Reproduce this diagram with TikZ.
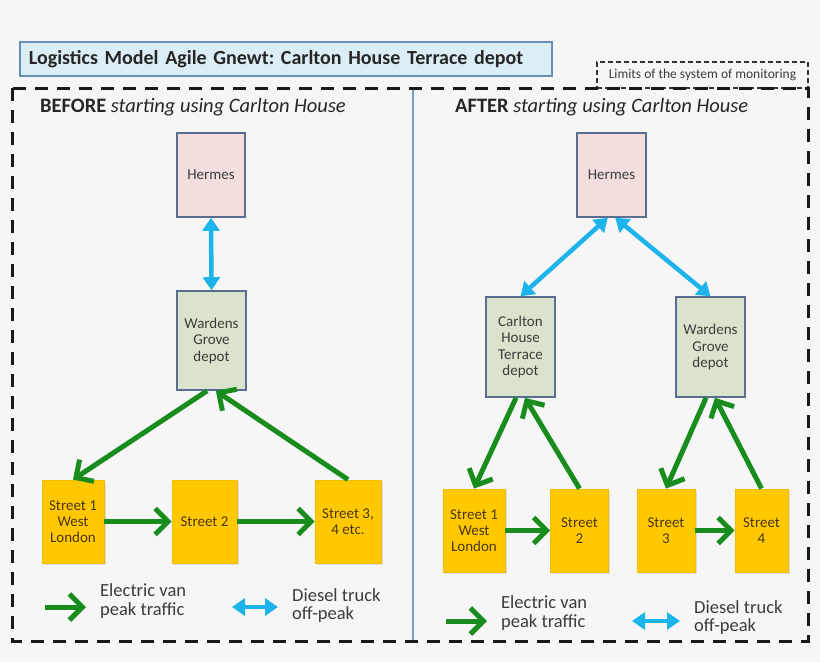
\documentclass[tikz,border=0pt]{standalone}
\usepackage{fontspec}
\setmainfont{Carlito}
\usetikzlibrary{arrows.meta,shadows}
\definecolor{bgcol}{RGB}{246,246,246}
\definecolor{titlefill}{RGB}{219,238,245}
\definecolor{titleline}{RGB}{105,140,185}
\definecolor{boxline}{RGB}{90,110,145}
\definecolor{boxtext}{RGB}{60,60,60}
\definecolor{hermesfill}{RGB}{242,222,221}
\definecolor{depotfill}{RGB}{218,228,204}
\definecolor{streetfill}{RGB}{255,200,0}
\definecolor{streetline}{RGB}{240,188,0}
\definecolor{streettext}{RGB}{75,55,10}
\definecolor{vangreen}{RGB}{25,140,30}
\definecolor{truckblue}{RGB}{28,180,234}
\definecolor{divider}{RGB}{125,155,200}
\frenchspacing
\begin{document}
\begin{tikzpicture}[x=1pt,y=-1pt]
\tikzstyle{every node}+=[inner sep=0pt]
\tikzstyle{box}=[draw=boxline, line width=1.6pt, align=center, text=boxtext, font=\fontsize{15}{16.5}\selectfont]
\tikzstyle{hermesbox}=[box, fill=hermesfill, minimum width=68pt, minimum height=84pt]
\tikzstyle{depotbox}=[box, fill=depotfill, minimum width=69pt, minimum height=100pt]
\tikzstyle{streetbox}=[draw=streetline, line width=0.8pt, fill=streetfill, align=center, text=streettext, font=\fontsize{15}{16}\selectfont, minimum height=83pt, drop shadow={shadow xshift=1.5pt, shadow yshift=-1.5pt, opacity=0.2}]
\tikzstyle{van}=[draw=vangreen, line width=5pt, -{Straight Barb[length=13pt,width=26pt]}]
\tikzstyle{truck}=[draw=truckblue, line width=4.5pt, {Triangle[length=13pt,width=17pt]}-{Triangle[length=13pt,width=17pt]}]
\tikzstyle{legendtext}=[anchor=west, align=left, text=boxtext, font=\fontsize{18.5}{18.5}\selectfont]
\tikzstyle{heading}=[anchor=west, text=black!85, font=\fontsize{20.5}{22}\selectfont]
\useasboundingbox (0,0) rectangle (820,662);
\fill [bgcol] (0,0) rectangle (820,662);
\node (title) [draw=titleline, fill=titlefill, line width=1.8pt, anchor=west, text width=514pt, inner xsep=9pt, minimum height=34pt, align=left, text=black!85, font=\fontsize{20}{22}\selectfont\bfseries] at (19,59) {Logistics Model Agile Gnewt: Carlton House Terrace depot};
\node (limits) [draw=black!80, line width=1.2pt, dash pattern=on 5pt off 3pt, minimum width=211pt, minimum height=26pt, text=boxtext, font=\fontsize{13.5}{15}\selectfont] at (702.5,75) {Limits of the system of monitoring};
\draw [black!90, line width=3pt, dash pattern=on 13pt off 9pt] (12,88) rectangle (808,641);
\draw [divider, line width=1.2pt] (413,89.5) -- (413,639.5);
\node (beforehead) [heading] at (40,107) {\textbf{BEFORE} \textit{starting using Carlton House}};
\node (afterhead) [heading] at (455,107) {\textbf{AFTER} \textit{starting using Carlton House}};
\node (hermesL) [hermesbox] at (211,175) {Hermes};
\node (wardensL) [depotbox, minimum height=99pt] at (211.5,340.5) {Wardens\\Grove\\depot};
\node (st1L) [streetbox, minimum width=62pt] at (73,521.5) {Street 1\\West\\London};
\node (st2L) [streetbox, minimum width=65pt] at (204.5,521.5) {Street 2};
\node (st3L) [streetbox, minimum width=66pt] at (348,521.5) {Street 3,\\4 etc.};
\draw [truck] (hermesL.south) -- (wardensL.north);
\draw [van] (wardensL.-95) -- (st1L.north);
\draw [van] (st3L.north) -- (wardensL.-85);
\draw [van] (st1L.east) -- (st2L.west);
\draw [van] (st2L.east) -- (st3L.west);
\node (hermesR) [hermesbox, minimum width=69pt] at (611.5,175) {Hermes};
\node (carltonR) [depotbox] at (520.5,347) {Carlton\\House\\Terrace\\depot};
\node (wardensR) [depotbox] at (710.5,347) {Wardens\\Grove\\depot};
\node (st1R) [streetbox, minimum width=62pt] at (474,530.5) {Street 1\\West\\London};
\node (st2R) [streetbox, minimum width=58pt] at (579.5,530.5) {Street\\2};
\node (st3R) [streetbox, minimum width=58pt] at (666,530.5) {Street\\3};
\node (st4R) [streetbox, minimum width=53pt] at (761.5,530.5) {Street\\4};
\draw [truck] (hermesR.-95) -- (carltonR.north);
\draw [truck] (hermesR.-85) -- (wardensR.north);
\draw [van] (carltonR.-95) -- (st1R.north);
\draw [van] (st2R.north) -- (carltonR.-85);
\draw [van] (wardensR.-95) -- (st3R.north);
\draw [van] (st4R.north) -- (wardensR.-85);
\draw [van] (st1R.east) -- (st2R.west);
\draw [van] (st3R.east) -- (st4R.west);
\coordinate (vanLa) at (45,607);
\coordinate (vanLb) at (86,607);
\draw [van] (vanLa) -- (vanLb);
\node (vanLtext) [legendtext] at (100,601) {Electric van\\peak traffic};
\coordinate (truckLa) at (232,607);
\coordinate (truckLb) at (278,607);
\draw [truck] (truckLa) -- (truckLb);
\node (truckLtext) [legendtext] at (292,605.5) {Diesel truck\\off-peak};
\coordinate (vanRa) at (446,621);
\coordinate (vanRb) at (487,621);
\draw [van] (vanRa) -- (vanRb);
\node (vanRtext) [legendtext] at (501,613) {Electric van\\peak traffic};
\coordinate (truckRa) at (632,621);
\coordinate (truckRb) at (680,621);
\draw [truck] (truckRa) -- (truckRb);
\node (truckRtext) [legendtext] at (694,617.5) {Diesel truck\\off-peak};
\end{tikzpicture}
\end{document}
